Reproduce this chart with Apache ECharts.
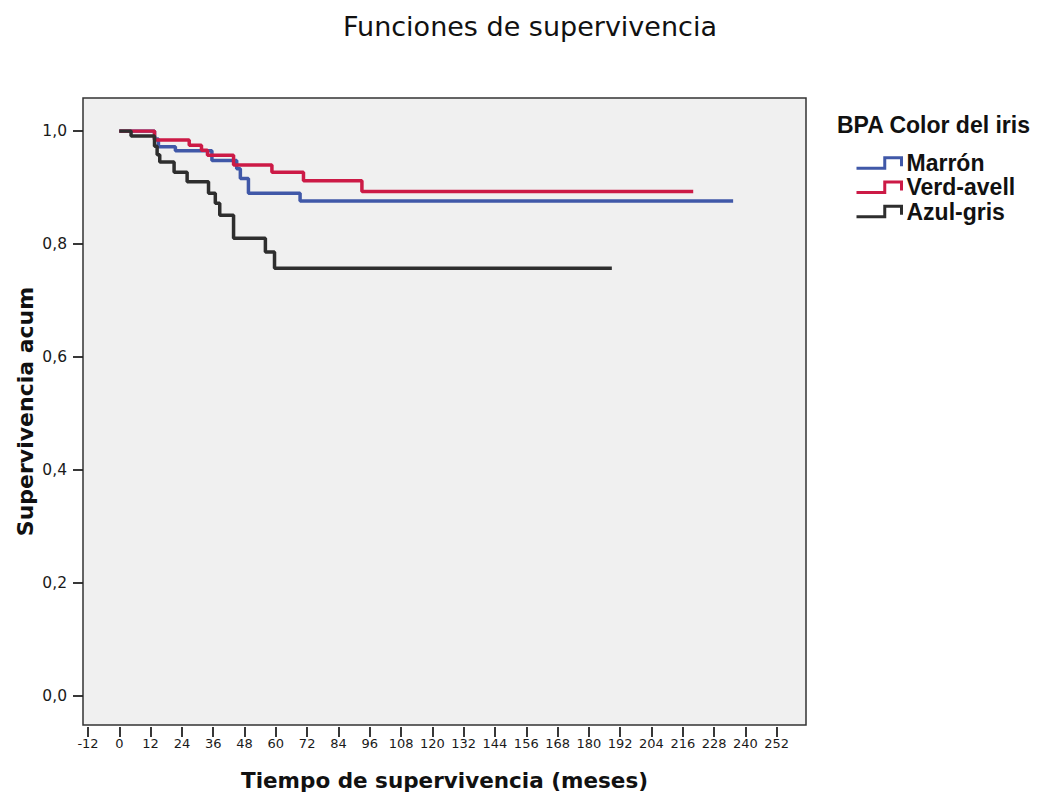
<!DOCTYPE html>
<html>
<head>
<meta charset="utf-8">
<script src="https://cdn.jsdelivr.net/npm/echarts@6/dist/echarts.min.js"></script>
<style>
  html, body { margin: 0; padding: 0; background: #ffffff; }
  #chart { width: 1039px; height: 796px; }
</style>
</head>
<body>
<div id="chart"></div>
<script>
// ---- Data ----
const seriesNames = ['Marrón', 'Verd-avell', 'Azul-gris'];

const marronTime = [0, 13.5, 15, 21.5, 35.5, 45, 46.4, 49.5, 69.3, 235.3];
const marronSurv = [1.0, 0.986, 0.972, 0.965, 0.948, 0.933, 0.916, 0.890, 0.876, 0.876];

const verdTime = [0, 13.5, 26.8, 31.5, 33.8, 43.8, 58.5, 70.6, 93, 220];
const verdSurv = [1.0, 0.984, 0.975, 0.966, 0.957, 0.940, 0.927, 0.912, 0.893, 0.893];

const azulTime = [0, 4.5, 13.5, 14.5, 15.5, 21, 26, 34.2, 36.8, 38.5, 43.8, 56, 59.5, 188.8];
const azulSurv = [1.0, 0.991, 0.973, 0.958, 0.945, 0.927, 0.910, 0.890, 0.872, 0.851, 0.810, 0.786, 0.757, 0.757];

const yTickLabels = ['0,0', '0,2', '0,4', '0,6', '0,8', '1,0'];

// ---- Chart ----
const colors = ['#4058a8', '#cc1a46', '#2e2e2e'];
const pair = (t, s) => t.map((v, i) => [v, s[i]]);
const seriesData = [pair(marronTime, marronSurv), pair(verdTime, verdSurv), pair(azulTime, azulSurv)];

const stepIcon = 'path://M0,10 L27,10 L27,0 L43,0 L43,8';

const chart = echarts.init(document.getElementById('chart'), null, { renderer: 'svg' });

const option = {
  animation: false,
  backgroundColor: '#ffffff',
  title: [
    {
      text: 'Funciones de supervivencia',
      left: 343, top: 13, padding: 0,
      textStyle: { fontFamily: 'DejaVu Sans', fontSize: 27, fontWeight: 'normal', color: '#111' }
    },
    {
      text: 'BPA Color del iris',
      left: 837, top: 113, padding: 0,
      textStyle: { fontFamily: 'Liberation Sans', fontSize: 23, fontWeight: 'bold', color: '#111' }
    }
  ],
  legend: {
    orient: 'vertical',
    left: 855, top: 151, padding: 0,
    itemWidth: 45, itemHeight: 12,
    itemGap: 0.3,
    selectedMode: false,
    textStyle: { fontFamily: 'Liberation Sans', fontSize: 23, fontWeight: 'bold', color: '#111', lineHeight: 24 },
    data: seriesNames.map((n, i) => ({
      name: n,
      icon: stepIcon,
      itemStyle: { color: 'rgba(0,0,0,0)', borderColor: colors[i], borderWidth: 3 }
    }))
  },
  grid: [
    { left: 83, right: 233, top: 98, bottom: 69, show: true,
      backgroundColor: '#f0f0f0', borderColor: '#333', borderWidth: 1.5 },
    { left: 88, right: 262.3, top: 131, bottom: 100 }
  ],
  xAxis: [
    {
      gridIndex: 0, type: 'value', min: 0, max: 1,
      name: 'Tiempo de supervivencia (meses)',
      nameLocation: 'middle', nameGap: 44,
      nameTextStyle: { fontFamily: 'DejaVu Sans', fontSize: 21.5, fontWeight: 'bold', color: '#111' },
      axisLine: { show: false, onZero: false }, axisTick: { show: false }, axisLabel: { show: false }, splitLine: { show: false }
    },
    {
      gridIndex: 1, type: 'value', min: -12, max: 252, interval: 12, offset: 31,
      axisLine: { show: false, onZero: false },
      axisTick: { show: true, inside: false, length: 10, lineStyle: { color: '#222', width: 1.8 } },
      axisLabel: { interval: 0, margin: 10, fontFamily: 'DejaVu Sans', fontSize: 13, color: '#1a1a1a' },
      splitLine: { show: false }
    }
  ],
  yAxis: [
    {
      gridIndex: 0, type: 'value', min: 0, max: 1,
      name: 'Supervivencia acum',
      nameLocation: 'middle', nameGap: 47,
      nameTextStyle: { fontFamily: 'DejaVu Sans', fontSize: 22, fontWeight: 'bold', color: '#111' },
      axisLine: { show: false, onZero: false }, axisTick: { show: false }, axisLabel: { show: false }, splitLine: { show: false }
    },
    {
      gridIndex: 1, type: 'value', min: 0, max: 1, interval: 0.2, offset: 5,
      axisLine: { show: false, onZero: false },
      axisTick: { show: true, inside: false, length: 10, lineStyle: { color: '#222', width: 1.8 } },
      axisLabel: {
        margin: 16, fontFamily: 'DejaVu Sans', fontSize: 15.5, color: '#1a1a1a',
        formatter: v => yTickLabels[Math.round(v / 0.2)]
      },
      splitLine: { show: false }
    }
  ],
  series: seriesNames.map((n, i) => ({
    name: n,
    type: 'line',
    xAxisIndex: 1, yAxisIndex: 1,
    step: 'end',
    showSymbol: false,
    symbol: 'none',
    data: seriesData[i],
    lineStyle: { color: colors[i], width: 3.5 },
    itemStyle: { color: colors[i] }
  }))
};

chart.setOption(option);
</script>
</body>
</html>
